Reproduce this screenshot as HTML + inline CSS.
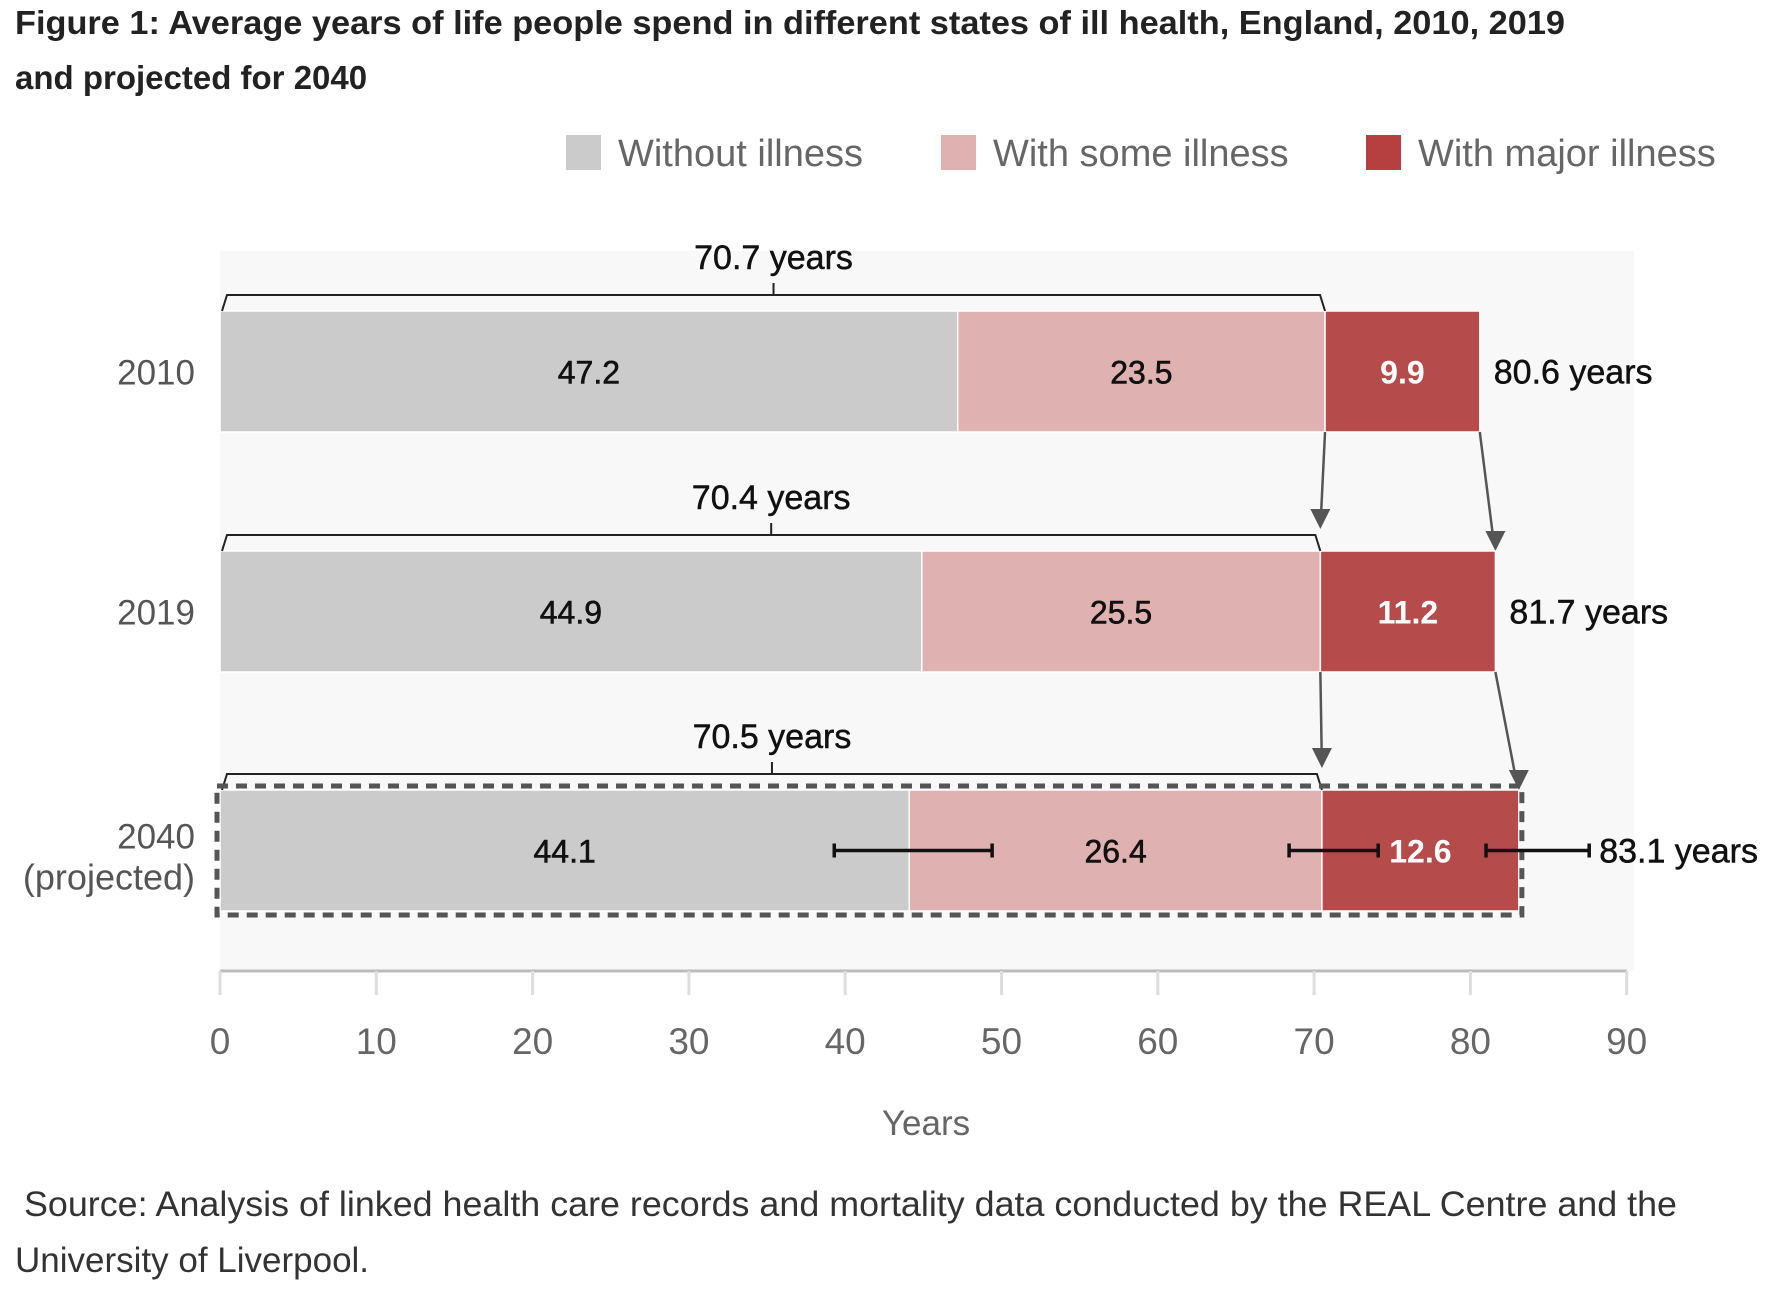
<!DOCTYPE html>
<html><head><meta charset="utf-8"><style>
body{margin:0;background:#fff;width:1782px;height:1296px;overflow:hidden}
svg{display:block}
text{font-family:"Liberation Sans",sans-serif}
</style></head><body>
<svg id="chart" width="1782" height="1296" xmlns="http://www.w3.org/2000/svg">
<text x="15" y="34" font-size="33" font-weight="bold" fill="#222" textLength="1550" lengthAdjust="spacingAndGlyphs">Figure 1: Average years of life people spend in different states of ill health, England, 2010, 2019</text>
<text x="15" y="89" font-size="33" font-weight="bold" fill="#222">and projected for 2040</text>
<g>
<rect x="566" y="135" width="35" height="35" fill="#cbcbcb"/>
<text x="618" y="166" font-size="38" fill="#666">Without illness</text>
<rect x="941" y="135" width="35" height="35" fill="#e0b1b1"/>
<text x="993" y="166" font-size="38" fill="#666">With some illness</text>
<rect x="1366" y="135" width="35" height="35" fill="#b5403f"/>
<text x="1418" y="166" font-size="38" fill="#666">With major illness</text>
</g>
<rect x="220" y="251" width="1414" height="720" fill="#f8f8f8"/>
<g id="marks"></g>
<text x="926" y="1135" font-size="35" fill="#666" text-anchor="middle">Years</text>
<text x="24" y="1216" font-size="35" fill="#333" textLength="1653" lengthAdjust="spacingAndGlyphs">Source: Analysis of linked health care records and mortality data conducted by the REAL Centre and the</text>
<text x="15" y="1272" font-size="35" fill="#333">University of Liverpool.</text>
</svg>
<script>
const years = ["2010","2019","2040"];
const withoutIllness = [47.2, 44.9, 44.1];
const someIllness = [23.5, 25.5, 26.4];
const majorIllness = [9.9, 11.2, 12.6];
const totals = ["80.6 years","81.7 years","83.1 years"];
const healthyTotals = ["70.7 years","70.4 years","70.5 years"];
const errLow = [39.3, 68.4, 81.0];
const errHigh = [49.4, 74.1, 87.6];
const xTicks = [0,10,20,30,40,50,60,70,80,90];

const NS="http://www.w3.org/2000/svg";
const g=document.getElementById('marks');
const x=v=>220+v*15.63;
const rowTop=i=>[311,551,790][i];
const barH=121;
function el(t,a,txt){const e=document.createElementNS(NS,t);for(const k in a)e.setAttribute(k,a[k]);if(txt!==undefined)e.textContent=txt;g.appendChild(e);return e;}
let ax=el('line',{x1:x(0),x2:x(90),y1:971,y2:971,stroke:'#bbb','stroke-width':3});


xTicks.forEach(t=>{
 let l=el('line',{x1:x(t),x2:x(t),y1:971,y2:995,stroke:'#ddd','stroke-width':3});
 
 
 let tx=el('text',{x:x(t),y:1054,'font-size':37,fill:'#666','text-anchor':'middle'},String(t));
 
 
});
const cols=['#cbcbcb','#e0b1b1','#b54b4a'];
years.forEach((yr,i)=>{
 const top=rowTop(i), cy=top+barH/2;
 const vals=[withoutIllness[i],someIllness[i],majorIllness[i]];
 let s=0;
 vals.forEach((v,j)=>{
  let r=el('rect',{x:x(s),y:top,width:x(s+v)-x(s),height:barH,fill:cols[j],stroke:'#fff','stroke-width':1.5});
  
  
  let t=el('text',{x:(x(s)+x(s+v))/2,y:cy+12,'font-size':32,'font-weight':j==2?'bold':'normal',fill:j==2?'#fff':'#111','text-anchor':'middle',stroke:j==2?'none':'#111','stroke-width':0.6},v.toFixed(1));
  
  
  s+=v;
 });
 const tot=s;
 if(i<2){let yl=el('text',{x:195,y:cy+13,'font-size':35,fill:'#555','text-anchor':'end'},yr);
  
  }
 else{let yl=el('text',{x:195,y:cy-2,'font-size':35,fill:'#555','text-anchor':'end'},yr);
  
  
  let y2=el('text',{x:195,y:cy+39,'font-size':36,fill:'#555','text-anchor':'end'},'(projected)');
  
  }
 const h=withoutIllness[i]+someIllness[i];
 const by=top-16, xl=x(0)+2, xr=x(h);
 let br=el('path',{d:`M${xl},${top} L${xl+5},${by} L${xr-5},${by} L${xr},${top} M${(xl+xr)/2},${by} L${(xl+xr)/2},${by-12}`,fill:'none',stroke:'#222','stroke-width':2});
 
 
 let bt=el('text',{x:(xl+xr)/2,y:by-26,'font-size':34,fill:'#111','text-anchor':'middle',stroke:'#111','stroke-width':0.5},healthyTotals[i]);
 
 
 let lx = i==2 ? x(errHigh[i])+10 : x(tot)+14;
 let tl=el('text',{x:lx,y:cy+12,'font-size':34,fill:'#111',stroke:'#111','stroke-width':0.5},totals[i]);
 
 
 if(i<2){
  const nt=rowTop(i+1), nh=withoutIllness[i+1]+someIllness[i+1], ntot=nh+majorIllness[i+1];
  [[x(h),x(nh),nt-22],[x(tot),x(ntot),nt]].forEach(([a,b,ey])=>{
   let ln=el('line',{x1:a,y1:top+barH,x2:b+(a-b)*0.18,y2:ey-18,stroke:'#555','stroke-width':2.5});
   
   
   let hd=el('polygon',{points:`${b-10},${ey-20} ${b+10},${ey-20} ${b},${ey}`,fill:'#555'});
   
   
  });
 }
 if(i==2){
  let db=el('rect',{x:x(0)-3,y:top-4,width:x(tot)-x(0)+6,height:barH+8,fill:'none',stroke:'#555','stroke-width':5,'stroke-dasharray':'11 8'});
  
  
  errLow.forEach((lo,k)=>{
   const hi=errHigh[k];
   let e=el('path',{d:`M${x(lo)},${cy} L${x(hi)},${cy} M${x(lo)},${cy-7} L${x(lo)},${cy+7} M${x(hi)},${cy-7} L${x(hi)},${cy+7}`,stroke:'#111','stroke-width':3.5,fill:'none'});
   
   
  });
 }
});
</script>
</body></html>
